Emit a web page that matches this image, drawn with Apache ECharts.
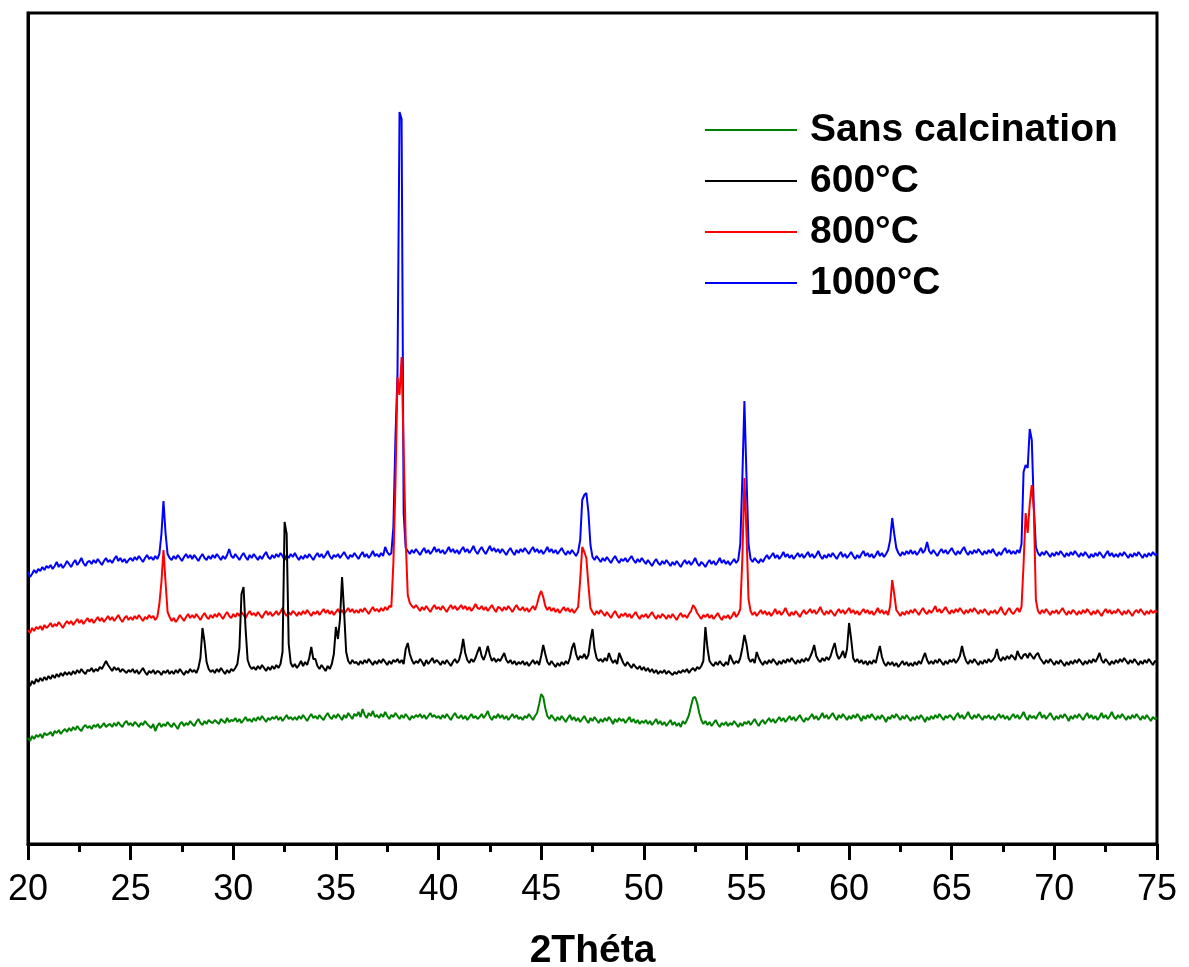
<!DOCTYPE html>
<html>
<head>
<meta charset="utf-8">
<script src="https://cdn.jsdelivr.net/npm/echarts@6/dist/echarts.min.js"></script>
<style>
html,body{margin:0;padding:0;background:#fff;}
#chart{width:1189px;height:967px;}
</style>
</head>
<body>
<div id="chart"></div>
<script>
// 2Theta grid: 20.0 to 75.0, step 0.1
var thetaStart = 20, thetaStep = 0.1;
var xTicks = [20, 25, 30, 35, 40, 45, 50, 55, 60, 65, 70, 75];
var seriesNames = ['Sans calcination', '600°C', '800°C', '1000°C'];

// Intensities (a.u., offset patterns), one row per degree (x.0 ... x.9)
var sansCalcination = [
106,103,108,105,109,107,110,106,111,109,
110,112,108,113,111,114,110,113,115,112,
116,113,117,114,118,115,113,117,119,116,
118,115,119,117,120,116,118,121,117,119,
120,117,121,118,122,119,117,121,123,119,
121,118,122,120,117,121,119,123,120,118,
116,120,113,118,121,117,120,118,122,119,
117,121,118,115,120,122,118,121,119,123,
120,118,122,125,121,119,123,120,124,122,
121,124,122,120,125,123,121,126,122,124,
123,126,122,125,121,124,127,123,125,122,
126,123,127,124,128,125,122,126,124,127,
125,128,124,127,123,126,129,125,127,124,
127,124,128,125,129,126,123,127,130,126,
128,125,129,126,124,128,131,127,125,129,
126,130,127,124,129,126,131,128,125,130,
128,132,127,135,129,126,131,128,133,127,
129,126,130,127,132,128,125,129,127,131,
128,125,129,126,130,127,124,128,126,129,
127,130,126,129,125,128,131,127,129,126,
128,125,129,126,130,127,124,128,131,127,
126,129,125,128,124,127,130,126,128,125,
127,130,126,129,133,127,124,128,126,130,
126,129,125,128,124,127,130,126,129,125,
127,124,128,126,130,127,124,128,131,140,
150,147,136,128,125,129,126,123,127,124,
128,125,122,126,129,124,127,123,126,122,
125,128,124,121,126,123,127,124,121,125,
122,126,123,127,124,120,125,122,126,123,
125,121,124,127,122,125,121,124,120,123,
121,124,120,123,119,122,125,120,123,119,
122,118,121,124,119,122,118,121,117,123,
120,124,129,138,146,147,141,131,124,120,
123,119,122,118,121,124,120,117,121,119,
122,118,121,119,123,120,117,121,118,122,
120,123,119,122,125,121,118,122,124,120,
123,126,122,125,121,124,127,123,126,122,
125,128,124,127,123,126,129,125,122,126,
124,127,130,125,128,124,127,131,126,129,
125,128,131,127,124,129,126,130,127,124,
128,125,129,126,130,127,123,128,125,129,
126,130,127,124,128,125,129,126,122,127,
125,129,126,130,127,124,128,125,129,126,
123,127,124,128,125,129,126,122,127,124,
128,125,129,126,130,127,124,128,126,129,
127,124,128,131,126,129,125,128,132,127,
125,129,126,130,127,124,128,126,129,125,
128,124,127,130,126,129,125,128,124,127,
130,126,129,125,128,132,127,124,129,126,
128,125,129,132,126,129,125,128,131,127,
124,128,125,129,126,130,127,123,128,125,
129,126,130,127,124,128,131,126,129,125,
128,124,127,131,126,129,125,128,132,127,
125,129,126,130,127,124,128,125,129,126,
130,127,124,128,125,129,126,123,127,125,
126];

var calc600 = [
161,158,163,160,165,162,166,163,167,164,
168,165,169,166,170,167,171,168,172,169,
172,169,173,170,174,171,175,172,170,174,
173,176,172,175,173,177,175,179,183,179,
176,173,177,174,176,172,175,173,171,174,
172,175,171,174,170,173,176,172,169,173,
171,174,170,173,172,169,173,171,174,170,
173,170,174,171,175,172,169,173,171,175,
172,174,171,176,186,216,202,182,175,172,
174,171,175,172,176,173,170,174,171,175,
173,176,180,196,250,257,215,184,178,175,
177,174,178,175,179,176,173,177,174,178,
175,179,176,180,192,322,310,200,181,177,
180,176,179,183,178,182,179,186,197,185,
185,178,175,179,176,173,178,175,180,190,
217,205,225,267,232,192,183,180,184,181,
182,179,183,180,184,181,185,182,179,183,
180,184,181,185,182,179,183,180,184,182,
185,181,184,180,195,201,190,184,180,183,
181,185,182,178,184,180,183,186,181,184,
182,179,183,180,184,181,178,182,185,181,
184,192,205,191,184,181,185,182,186,192,
197,188,184,190,198,189,183,186,182,185,
183,187,191,184,181,184,180,183,179,182,
180,183,179,182,178,181,184,180,183,179,
188,199,190,182,179,183,180,177,181,178,
182,179,183,180,186,196,201,190,184,188,
186,190,185,189,204,215,195,186,183,185,
182,186,183,191,185,181,184,180,191,186,
181,178,182,179,176,180,177,175,178,174,
177,173,176,172,175,171,174,170,173,171,
174,170,173,171,169,172,170,173,171,174,
172,175,171,174,176,173,177,175,178,183,
217,196,183,180,178,182,179,183,180,178,
182,179,189,184,180,183,181,186,196,209,
200,186,182,185,181,192,186,182,179,183,
180,184,181,185,182,179,183,180,184,181,
185,182,186,183,180,184,181,185,182,186,
183,187,192,199,188,184,182,186,183,187,
184,188,195,201,190,185,188,193,186,195,
221,205,186,182,185,181,184,180,183,179,
183,180,184,181,190,198,187,181,178,182,
179,182,178,181,177,180,183,179,182,178,
181,178,182,179,183,180,186,191,184,180,
183,180,184,181,185,182,179,183,180,184,
182,185,181,184,188,198,189,183,180,184,
181,185,182,179,183,180,184,181,185,182,
184,187,195,186,183,187,184,188,185,189,
187,184,193,188,185,189,190,186,191,188,
185,189,191,186,183,180,184,181,185,182,
179,183,180,184,181,178,182,179,183,180,
184,181,185,182,179,183,180,184,181,185,
182,186,191,184,181,185,182,179,183,180,
184,181,185,182,186,183,180,184,181,185,
182,179,183,180,184,181,185,182,179,183,
182];

var calc800 = [
214,211,216,213,217,215,218,214,219,216,
218,221,217,220,218,222,219,216,220,223,
220,223,219,222,225,221,224,220,223,226,
222,225,221,224,227,223,226,222,225,228,
224,227,223,226,229,225,222,226,228,224,
227,224,228,225,229,226,223,227,225,229,
226,228,224,227,240,262,294,262,232,227,
223,226,222,225,229,226,223,227,230,226,
229,226,230,227,224,228,231,227,225,229,
226,230,227,231,228,225,229,232,228,226,
230,227,231,228,232,229,226,230,233,229,
231,228,232,229,226,230,233,229,232,228,
230,233,229,232,236,231,228,232,229,233,
231,228,232,229,233,230,234,231,228,232,
230,233,229,232,235,231,234,230,233,229,
232,235,231,234,230,233,236,232,235,231,
234,231,235,232,236,233,230,234,237,233,
235,232,236,233,237,234,238,237,281,359,
467,449,487,394,304,249,241,238,236,239,
236,233,237,234,238,235,232,236,239,235,
237,234,238,235,232,236,239,235,238,234,
236,239,235,238,234,237,233,236,240,236,
235,238,234,237,233,236,239,235,232,237,
236,233,237,234,238,235,232,236,239,235,
234,237,233,236,232,235,238,234,240,248,
253,247,238,234,237,233,236,232,235,231,
234,237,233,236,232,235,231,234,237,264,
297,292,286,259,236,232,229,233,230,234,
231,228,232,229,226,230,233,229,226,230,
228,231,227,230,226,229,232,228,225,229,
227,230,226,229,232,228,225,229,226,230,
228,225,229,226,230,227,224,228,231,227,
229,226,230,233,239,236,231,228,225,229,
227,230,226,229,225,228,231,227,224,228,
226,229,225,228,232,227,230,235,285,366,
312,245,233,229,232,228,231,234,230,233,
229,232,228,231,235,230,233,229,232,236,
231,228,232,229,233,230,227,231,234,230,
232,235,231,234,230,233,237,232,229,233,
230,234,231,228,232,235,231,234,230,233,
236,231,234,230,233,229,232,235,231,234,
230,233,229,232,236,231,234,230,233,229,
238,264,250,234,231,228,232,229,233,230,
234,231,235,232,229,233,236,232,230,234,
231,234,238,232,235,231,234,237,233,230,
234,231,235,232,236,233,230,234,231,235,
232,236,233,230,234,231,235,232,229,233,
231,234,230,233,237,232,229,233,236,232,
230,233,236,232,237,280,331,311,340,359,
334,244,233,230,234,231,235,232,229,233,
231,234,230,233,236,232,229,233,230,234,
232,229,233,230,234,231,235,232,229,233,
230,234,231,228,232,235,231,234,230,233,
231,235,232,229,233,230,234,231,228,232,
234,231,235,232,229,233,230,234,231,233,
232];

var calc1000 = [
272,267,270,274,271,275,273,277,274,278,
276,279,275,278,282,277,280,276,279,283,
280,277,281,284,279,282,286,281,278,282,
283,280,284,281,285,282,279,283,286,282,
284,281,285,288,283,286,282,285,281,284,
286,283,287,284,288,285,282,286,289,285,
287,284,288,285,290,310,343,311,290,286,
284,288,285,289,286,283,287,290,286,289,
285,289,286,283,287,290,286,284,288,285,
289,286,290,287,284,288,285,289,295,288,
286,290,287,284,288,291,287,284,289,286,
290,287,284,288,285,289,292,287,285,289,
286,290,287,291,288,284,289,286,290,287,
291,287,284,288,285,289,286,290,287,284,
288,291,287,290,286,289,293,288,285,289,
287,290,286,289,292,288,285,289,287,291,
288,285,289,292,287,290,286,289,293,288,
290,287,291,288,297,292,289,291,317,406,
470,732,725,331,296,293,290,294,291,295,
292,289,293,296,291,294,290,293,297,292,
295,291,294,290,293,297,292,295,291,294,
290,294,297,292,295,291,294,298,293,290,
294,297,293,290,294,298,293,296,292,295,
291,295,292,289,293,296,292,289,294,291,
295,292,296,293,290,294,297,292,295,291,
294,290,293,297,292,295,291,294,290,293,
296,292,289,293,290,294,291,288,292,304,
344,349,351,332,299,287,284,288,285,282,
286,283,287,284,281,285,288,284,281,285,
283,286,282,285,288,284,281,285,282,286,
283,280,284,281,278,282,285,281,279,283,
280,284,281,278,282,279,283,280,277,281,
284,280,283,279,282,286,281,278,282,280,
277,281,284,280,283,279,282,286,281,284,
280,283,279,282,285,281,284,300,366,443,
369,300,285,282,286,283,281,285,282,286,
289,285,288,291,286,289,285,288,292,287,
290,286,289,285,288,291,287,290,286,289,
292,287,290,286,289,293,288,285,289,286,
290,287,291,288,285,289,292,287,290,286,
289,292,288,285,289,286,290,293,288,291,
287,290,286,289,293,288,291,287,290,294,
304,326,310,296,291,288,292,289,293,290,
294,290,293,289,292,296,291,294,302,293,
290,294,291,288,292,295,291,294,290,293,
296,292,289,293,290,294,297,292,289,293,
290,294,291,295,292,289,293,290,294,291,
295,291,288,292,289,293,296,291,294,290,
293,290,294,291,300,372,379,376,415,404,
337,297,291,288,292,289,293,290,287,291,
288,292,289,293,290,287,291,288,292,289,
293,290,287,291,288,292,289,286,290,287,
291,288,292,289,286,290,293,288,291,287,
290,287,291,288,292,289,286,290,287,291,
288,292,289,286,290,287,291,288,292,289,
290];

function pairs(arr) {
  return arr.map(function (v, i) {
    return [Math.round((thetaStart + i * thetaStep) * 10) / 10, v];
  });
}

var chart = echarts.init(document.getElementById('chart'), null, {renderer: 'canvas'});
var FONT = '"Liberation Sans", Arial, sans-serif';

function lineSeries(name, arr, color) {
  return {
    name: name,
    type: 'line',
    data: pairs(arr),
    color: color,
    showSymbol: false,
    symbol: 'none',
    lineStyle: {width: 2, color: color},
    emphasis: {disabled: true},
    animation: false
  };
}

chart.setOption({
  backgroundColor: '#ffffff',
  animation: false,
  grid: {
    left: 28, right: 32, top: 13, bottom: 123,
    containLabel: false,
    outerBoundsMode: 'none',
    show: true, borderColor: '#000', borderWidth: 3, backgroundColor: 'transparent'
  },
  legend: {
    data: seriesNames,
    orient: 'vertical',
    left: 705,
    top: 110,
    padding: 0,
    itemGap: 11,
    itemWidth: 92,
    itemHeight: 2,
    icon: 'rect',
    selectedMode: false,
    textStyle: {
      fontFamily: FONT, fontSize: 39, fontWeight: 'bold', color: '#000',
      lineHeight: 40, padding: [0, 0, 0, 8]
    }
  },
  xAxis: {
    type: 'value',
    min: xTicks[0],
    max: xTicks[xTicks.length - 1],
    interval: 5,
    name: '2Théta',
    nameLocation: 'middle',
    nameGap: 88,
    nameTextStyle: {fontFamily: FONT, fontSize: 39, fontWeight: 'bold', color: '#000'},
    axisLine: {show: true, lineStyle: {color: '#000', width: 3}},
    axisTick: {show: true, inside: false, length: 16, lineStyle: {color: '#000', width: 3}},
    minorTick: {show: true, splitNumber: 2, length: 8, lineStyle: {color: '#000', width: 3}},
    splitLine: {show: false},
    minorSplitLine: {show: false},
    axisLabel: {fontFamily: FONT, fontSize: 36, color: '#000', margin: 28}
  },
  yAxis: {
    type: 'value',
    min: 0,
    max: 831,
    axisLine: {show: true, lineStyle: {color: '#000', width: 3}},
    axisTick: {show: false},
    axisLabel: {show: false},
    splitLine: {show: false}
  },
  series: [
    lineSeries(seriesNames[3], calc1000, '#0000ff'),
    lineSeries(seriesNames[2], calc800, '#ff0000'),
    lineSeries(seriesNames[1], calc600, '#000000'),
    lineSeries(seriesNames[0], sansCalcination, '#008000')
  ]
});
</script>
</body>
</html>
